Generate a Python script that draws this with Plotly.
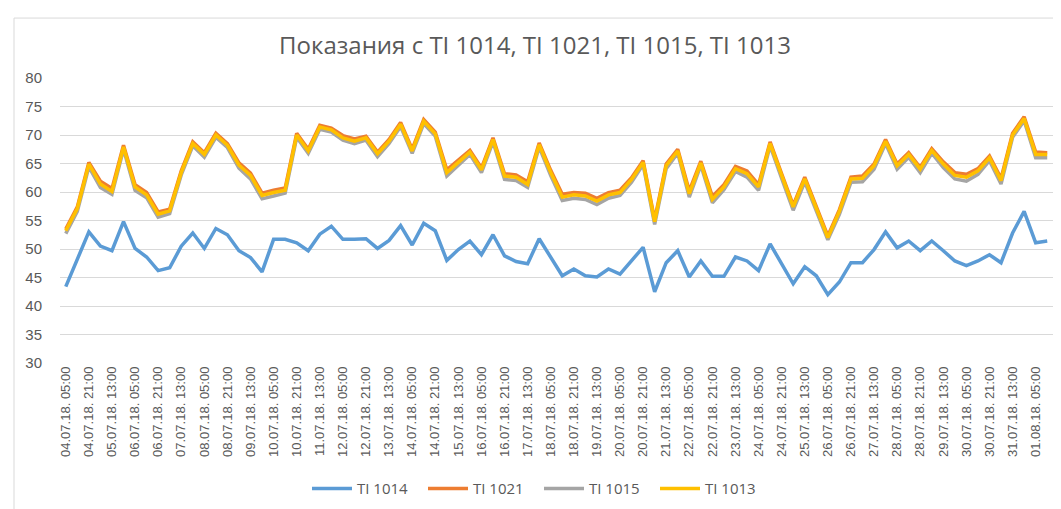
import plotly.graph_objects as go

categories = [
    "04.07.18. 05:00", "04.07.18. 13:00", "04.07.18. 21:00",
    "05.07.18. 05:00", "05.07.18. 13:00", "05.07.18. 21:00",
    "06.07.18. 05:00", "06.07.18. 13:00", "06.07.18. 21:00",
    "07.07.18. 05:00", "07.07.18. 13:00", "07.07.18. 21:00",
    "08.07.18. 05:00", "08.07.18. 13:00", "08.07.18. 21:00",
    "09.07.18. 05:00", "09.07.18. 13:00", "09.07.18. 21:00",
    "10.07.18. 05:00", "10.07.18. 13:00", "10.07.18. 21:00",
    "11.07.18. 05:00", "11.07.18. 13:00", "11.07.18. 21:00",
    "12.07.18. 05:00", "12.07.18. 13:00", "12.07.18. 21:00",
    "13.07.18. 05:00", "13.07.18. 13:00", "13.07.18. 21:00",
    "14.07.18. 05:00", "14.07.18. 13:00", "14.07.18. 21:00",
    "15.07.18. 05:00", "15.07.18. 13:00", "15.07.18. 21:00",
    "16.07.18. 05:00", "16.07.18. 13:00", "16.07.18. 21:00",
    "17.07.18. 05:00", "17.07.18. 13:00", "17.07.18. 21:00",
    "18.07.18. 05:00", "18.07.18. 13:00", "18.07.18. 21:00",
    "19.07.18. 05:00", "19.07.18. 13:00", "19.07.18. 21:00",
    "20.07.18. 05:00", "20.07.18. 13:00", "20.07.18. 21:00",
    "21.07.18. 05:00", "21.07.18. 13:00", "21.07.18. 21:00",
    "22.07.18. 05:00", "22.07.18. 13:00", "22.07.18. 21:00",
    "23.07.18. 05:00", "23.07.18. 13:00", "23.07.18. 21:00",
    "24.07.18. 05:00", "24.07.18. 13:00", "24.07.18. 21:00",
    "25.07.18. 05:00", "25.07.18. 13:00", "25.07.18. 21:00",
    "26.07.18. 05:00", "26.07.18. 13:00", "26.07.18. 21:00",
    "27.07.18. 05:00", "27.07.18. 13:00", "27.07.18. 21:00",
    "28.07.18. 05:00", "28.07.18. 13:00", "28.07.18. 21:00",
    "29.07.18. 05:00", "29.07.18. 13:00", "29.07.18. 21:00",
    "30.07.18. 05:00", "30.07.18. 13:00", "30.07.18. 21:00",
    "31.07.18. 05:00", "31.07.18. 13:00", "31.07.18. 21:00",
    "01.08.18. 05:00", "01.08.18. 13:00",
]

ti_1014 = [
    43.4, 48.3, 53.0, 50.5, 49.7, 54.8, 50.1, 48.6, 46.2, 46.7,
    50.5, 52.8, 50.1, 53.6, 52.5, 49.7, 48.5, 46.0, 51.7, 51.7,
    51.1, 49.7, 52.6, 54.0, 51.7, 51.7, 51.8, 50.1, 51.5, 54.1,
    50.7, 54.5, 53.2, 48.0, 49.9, 51.4, 49.0, 52.5, 48.8, 47.8,
    47.4, 51.8, 48.5, 45.3, 46.5, 45.3, 45.1, 46.5, 45.6, 47.9,
    50.3, 42.5, 47.6, 49.7, 45.1, 47.9, 45.2, 45.2, 48.6, 47.9,
    46.2, 50.9, 47.4, 43.9, 46.9, 45.3, 42.0, 44.2, 47.6, 47.6,
    49.9, 53.0, 50.2, 51.4, 49.7, 51.4, 49.7, 47.9, 47.1, 47.9,
    49.0, 47.6, 52.8, 56.6, 51.1, 51.4,
]

ti_1021 = [
    53.5, 57.4, 65.2, 61.9, 60.6, 68.2, 61.3, 59.9, 56.5, 57.0,
    63.7, 68.8, 66.9, 70.3, 68.5, 65.1, 63.3, 59.8, 60.3, 60.7,
    70.3, 67.5, 71.7, 71.2, 69.9, 69.3, 69.8, 67.0, 69.2, 72.2,
    67.5, 72.7, 70.5, 63.9, 65.6, 67.3, 64.2, 69.5, 63.2, 63.0,
    61.8, 68.6, 63.8, 59.6, 59.9, 59.8, 58.9, 59.9, 60.3, 62.5,
    65.5, 55.1, 64.9, 67.5, 60.2, 65.4, 59.2, 61.3, 64.5, 63.7,
    61.3, 68.8, 63.2, 57.7, 62.6, 57.4, 52.3, 56.9, 62.6, 62.8,
    64.9, 69.2, 64.9, 66.9, 64.3, 67.6, 65.3, 63.4, 63.1, 64.1,
    66.3, 62.4, 70.3, 73.2, 67.0, 66.9,
]

ti_1015 = [
    52.7, 56.6, 64.4, 60.8, 59.6, 67.5, 60.3, 59.0, 55.6, 56.2,
    63.0, 68.1, 66.1, 69.6, 67.8, 64.2, 62.3, 58.8, 59.3, 59.8,
    69.6, 66.8, 71.0, 70.5, 69.1, 68.5, 69.1, 66.2, 68.5, 71.5,
    66.8, 72.0, 69.8, 62.8, 64.7, 66.6, 63.4, 68.8, 62.2, 62.0,
    60.8, 67.9, 62.9, 58.5, 58.9, 58.7, 57.8, 58.9, 59.4, 61.7,
    64.8, 54.3, 64.1, 66.8, 59.1, 64.7, 58.1, 60.4, 63.6, 62.6,
    60.3, 68.1, 62.4, 56.8, 61.8, 56.6, 51.6, 56.1, 61.7, 61.8,
    64.0, 68.5, 64.0, 66.1, 63.4, 66.8, 64.3, 62.3, 61.9, 63.1,
    65.5, 61.4, 69.6, 72.5, 66.0, 66.0,
]

ti_1013 = [
    53.2, 57.1, 64.9, 61.4, 60.1, 67.9, 60.9, 59.5, 56.1, 56.7,
    63.4, 68.5, 66.6, 70.0, 68.2, 64.7, 62.9, 59.4, 59.9, 60.3,
    70.0, 67.2, 71.4, 70.9, 69.5, 68.9, 69.5, 66.7, 68.9, 71.9,
    67.2, 72.4, 70.2, 63.4, 65.2, 67.0, 63.9, 69.2, 62.8, 62.6,
    61.3, 68.3, 63.4, 59.1, 59.5, 59.3, 58.4, 59.5, 59.9, 62.2,
    65.2, 54.8, 64.6, 67.2, 59.7, 65.1, 58.7, 60.9, 64.1, 63.2,
    60.9, 68.5, 62.9, 57.4, 62.3, 57.1, 52.0, 56.6, 62.3, 62.4,
    64.6, 68.9, 64.6, 66.6, 64.0, 67.3, 64.9, 62.9, 62.6, 63.7,
    66.0, 62.0, 70.0, 72.9, 66.6, 66.6,
]

series_names = ["TI 1014", "TI 1021", "TI 1015", "TI 1013"]
series_values = [ti_1014, ti_1021, ti_1015, ti_1013]
series_colors = ["#5B9BD5", "#ED7D31", "#A5A5A5", "#FFC000"]

title_text = "Показания с TI 1014, TI 1021, TI 1015, TI 1013"
y_ticks = [30, 35, 40, 45, 50, 55, 60, 65, 70, 75, 80]
x_tick_labels = categories[::2]

for vals in series_values:
    assert len(vals) == len(categories), len(vals)

fig = go.Figure()
for name, vals, col in zip(series_names, series_values, series_colors):
    fig.add_trace(go.Scatter(
        x=categories, y=vals, name=name, mode="lines",
        line=dict(color=col, width=3.5, shape="linear"),
    ))

W, H = 1061, 509
L, R, T, B = 52, 1045, 70, 360


def px_to_paper_x(px):
    return (px - L) / (R - L)


def px_to_paper_y(py):
    return (B - py) / (B - T)


fig.update_layout(
    width=W, height=H,
    margin=dict(l=L, r=W - R, t=T, b=H - B),
    paper_bgcolor="white", plot_bgcolor="white",
    font=dict(family="Liberation Sans, Arial, sans-serif", color="#595959"),
    title=dict(text=title_text, x=527 / W, xanchor="center", xref="container",
               y=1 - 38 / H, yanchor="middle",
               font=dict(size=24, family="Open Sans", color="#595959")),
    showlegend=True,
    legend=dict(orientation="h", x=px_to_paper_x(299), xanchor="left",
                y=px_to_paper_y(488), yanchor="middle",
                font=dict(size=15, family="Open Sans", color="#595959"),
                itemwidth=40, entrywidth=61, entrywidthmode="pixels",
                bgcolor="rgba(0,0,0,0)"),
    xaxis=dict(type="category", categoryorder="array", categoryarray=categories,
               range=[-0.5, len(categories) - 0.5],
               tickmode="array", tickvals=x_tick_labels, ticktext=x_tick_labels,
               tickangle=-90, tickfont=dict(size=13, color="#595959"),
               showgrid=False, showline=False, zeroline=False, ticks=""),
    yaxis=dict(range=[30, 80], tickmode="array", tickvals=y_ticks,
               tickfont=dict(size=15, color="#595959"),
               showgrid=True, gridcolor="#D9D9D9", gridwidth=1,
               zeroline=False, showline=False, ticks="", ticklabelstandoff=17),
    shapes=[dict(type="rect", xref="paper", yref="paper",
                 x0=px_to_paper_x(6), x1=px_to_paper_x(1070),
                 y0=px_to_paper_y(520), y1=px_to_paper_y(9),
                 line=dict(color="#D9D9D9", width=1), layer="below")],
)

fig.write_html("out.html")
